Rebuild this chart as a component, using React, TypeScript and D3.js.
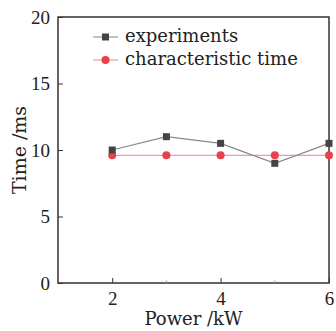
import { useEffect, useRef } from 'react';
import * as d3 from 'd3';

const power = [2, 3, 4, 5, 6];
const experiments = [10, 11, 10.5, 9, 10.5];
const characteristic = [9.6, 9.6, 9.6, 9.6, 9.6];
const xTicks = [2, 4, 6];
const yTicks = [0, 5, 10, 15, 20];
const seriesNames = ['experiments', 'characteristic time'];

export default function App() {
  const svgRef = useRef<SVGSVGElement | null>(null);

  useEffect(() => {
    if (!svgRef.current) return;
    const svg = d3.select(svgRef.current);
    svg.selectAll('*').remove();

    const width = 336;
    const height = 331;
    const margin = { top: 17, right: 7, bottom: 48, left: 58 };
    const font = '"DejaVu Serif", serif';
    const tickFont = '"Liberation Serif", serif';

    const x = d3.scaleLinear().domain([1, 6]).range([margin.left, width - margin.right]);
    const y = d3.scaleLinear().domain([0, 20]).range([height - margin.bottom, margin.top]);

    // frame
    svg.append('rect')
      .attr('x', margin.left)
      .attr('y', margin.top)
      .attr('width', width - margin.left - margin.right)
      .attr('height', height - margin.top - margin.bottom)
      .attr('fill', 'none')
      .attr('stroke', '#333')
      .attr('stroke-width', 1.5);

    // x axis
    const xAxis = svg.append('g')
      .attr('transform', `translate(0,${height - margin.bottom})`)
      .call(d3.axisBottom(x).tickValues(xTicks).tickSizeInner(-5).tickSizeOuter(0).tickPadding(9).tickFormat(d3.format('d')));
    xAxis.select('.domain').remove();
    xAxis.selectAll('line').attr('stroke', '#333');
    xAxis.selectAll('text').attr('font-family', tickFont).attr('font-size', 19).attr('fill', '#222');
    xAxis.selectAll('.minor').data([3, 5]).join('line')
      .attr('class', 'minor')
      .attr('x1', d => x(d)).attr('x2', d => x(d))
      .attr('y1', 0).attr('y2', -2.5)
      .attr('stroke', '#999');

    // y axis
    const yAxis = svg.append('g')
      .attr('transform', `translate(${margin.left},0)`)
      .call(d3.axisLeft(y).tickValues(yTicks).tickSizeInner(-5).tickSizeOuter(0).tickPadding(8));
    yAxis.select('.domain').remove();
    yAxis.selectAll('line').attr('stroke', '#333');
    yAxis.selectAll('text').attr('font-family', tickFont).attr('font-size', 19).attr('fill', '#222');

    // titles
    svg.append('text')
      .attr('x', (margin.left + width - margin.right) / 2)
      .attr('y', 325)
      .attr('text-anchor', 'middle')
      .attr('font-family', font)
      .attr('font-size', 18)
      .attr('fill', '#222')
      .text('Power /kW');

    svg.append('text')
      .attr('transform', `translate(26,${(margin.top + height - margin.bottom) / 2}) rotate(-90)`)
      .attr('text-anchor', 'middle')
      .attr('font-family', font)
      .attr('font-size', 19)
      .attr('fill', '#222')
      .text('Time /ms');

    const line = d3.line<number>()
      .x((d, i) => x(power[i]))
      .y(d => y(d));

    // characteristic time
    svg.append('path')
      .attr('d', line(characteristic) || '')
      .attr('fill', 'none')
      .attr('stroke', '#f29a9a')
      .attr('stroke-width', 1.2);
    svg.selectAll('circle.ct').data(characteristic).join('circle')
      .attr('class', 'ct')
      .attr('cx', (d, i) => x(power[i]))
      .attr('cy', d => y(d))
      .attr('r', 4)
      .attr('fill', '#e8414b');

    // experiments
    svg.append('path')
      .attr('d', line(experiments) || '')
      .attr('fill', 'none')
      .attr('stroke', '#888')
      .attr('stroke-width', 1.2);
    svg.selectAll('rect.exp').data(experiments).join('rect')
      .attr('class', 'exp')
      .attr('x', (d, i) => x(power[i]) - 3.5)
      .attr('y', d => y(d) - 3.5)
      .attr('width', 7)
      .attr('height', 7)
      .attr('fill', '#444');

    // legend
    const legend = svg.append('g');
    const lineColors = ['#999', '#f29a9a'];
    seriesNames.forEach((name, i) => {
      const g = legend.append('g').attr('transform', `translate(93,${37 + i * 23})`);
      g.append('line').attr('x1', 0).attr('x2', 25).attr('y1', 0).attr('y2', 0)
        .attr('stroke', lineColors[i]).attr('stroke-width', 1.2);
      if (i === 0) {
        g.append('rect').attr('x', 9).attr('y', -3.5).attr('width', 7).attr('height', 7).attr('fill', '#444');
      } else {
        g.append('circle').attr('cx', 12.5).attr('cy', 0).attr('r', 4).attr('fill', '#e8414b');
      }
      g.append('text')
        .attr('x', 32)
        .attr('y', 5)
        .attr('font-family', font)
        .attr('font-size', 18)
        .attr('fill', '#222')
        .text(name);
    });
  }, []);

  return <svg ref={svgRef} width={336} height={331} style={{ position: 'absolute', left: 0, top: 0 }}></svg>;
}
